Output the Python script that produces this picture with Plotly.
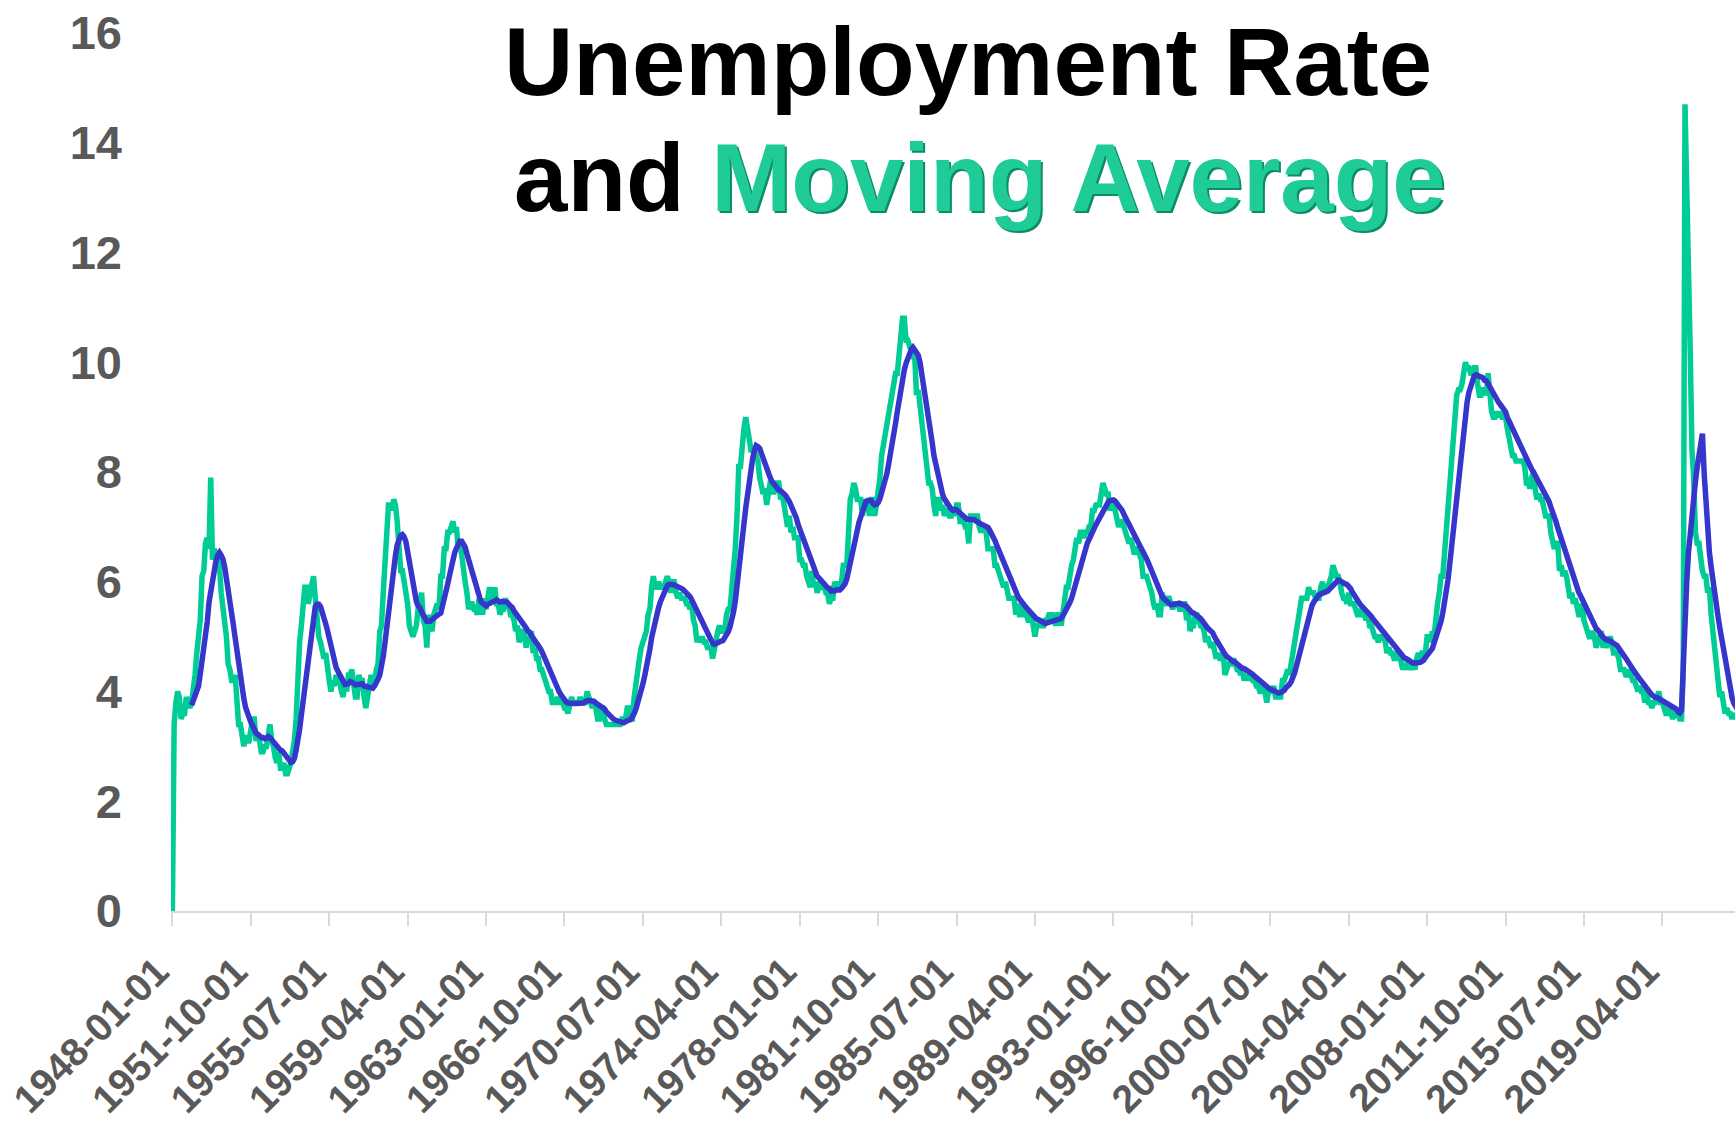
import pandas as pd
import plotly.graph_objects as go

# ---------------- data ----------------
dates = [d.strftime("%Y-%m-%d") for d in pd.date_range("1948-01-01", periods=901, freq="MS")]

unemployment_rate = [
    0.0,
    3.4, 3.8, 4.0, 3.9, 3.5, 3.6, 3.6, 3.9, 3.8, 3.7, 3.8, 4.0,
    4.3, 4.7, 5.0, 5.3, 6.1, 6.2, 6.7, 6.8, 6.6, 7.9, 6.4, 6.6,
    6.5, 6.4, 6.3, 5.8, 5.5, 5.4, 5.0, 4.5, 4.4, 4.2, 4.2, 4.3,
    3.7, 3.4, 3.4, 3.1, 3.0, 3.2, 3.1, 3.1, 3.3, 3.5, 3.5, 3.1,
    3.2, 3.1, 2.9, 2.9, 3.0, 3.0, 3.2, 3.4, 3.1, 3.0, 2.8, 2.7,
    2.9, 2.6, 2.6, 2.7, 2.5, 2.5, 2.6, 2.7, 2.9, 3.1, 3.5, 4.5,
    4.9, 5.2, 5.7, 5.9, 5.9, 5.6, 5.8, 6.0, 6.1, 5.7, 5.3, 5.0,
    4.9, 4.7, 4.6, 4.7, 4.3, 4.2, 4.0, 4.2, 4.1, 4.3, 4.2, 4.2,
    4.0, 3.9, 4.2, 4.0, 4.3, 4.3, 4.4, 4.1, 3.9, 3.9, 4.3, 4.2,
    4.2, 3.9, 3.7, 3.9, 4.1, 4.3, 4.2, 4.1, 4.4, 4.5, 5.1, 5.2,
    5.8, 6.4, 6.7, 7.4, 7.4, 7.3, 7.5, 7.4, 7.1, 6.7, 6.2, 6.2,
    6.0, 5.9, 5.6, 5.2, 5.1, 5.0, 5.1, 5.2, 5.5, 5.7, 5.8, 5.3,
    5.2, 4.8, 5.4, 5.2, 5.1, 5.4, 5.5, 5.6, 5.5, 6.1, 6.1, 6.6,
    6.6, 6.9, 6.9, 7.0, 7.1, 6.9, 7.0, 6.6, 6.7, 6.5, 6.1, 6.0,
    5.8, 5.5, 5.6, 5.6, 5.5, 5.5, 5.4, 5.7, 5.6, 5.4, 5.7, 5.5,
    5.7, 5.9, 5.7, 5.7, 5.9, 5.6, 5.6, 5.4, 5.5, 5.5, 5.7, 5.5,
    5.6, 5.4, 5.4, 5.3, 5.1, 5.2, 4.9, 5.0, 5.1, 5.1, 4.8, 5.0,
    4.9, 5.1, 4.7, 4.8, 4.6, 4.6, 4.4, 4.4, 4.3, 4.2, 4.1, 4.0,
    4.0, 3.8, 3.8, 3.8, 3.9, 3.8, 3.8, 3.8, 3.7, 3.7, 3.6, 3.8,
    3.9, 3.8, 3.8, 3.8, 3.8, 3.9, 3.8, 3.8, 3.8, 4.0, 3.9, 3.8,
    3.7, 3.8, 3.7, 3.5, 3.5, 3.7, 3.7, 3.5, 3.4, 3.4, 3.4, 3.4,
    3.4, 3.4, 3.4, 3.4, 3.4, 3.5, 3.5, 3.5, 3.7, 3.7, 3.5, 3.5,
    3.9, 4.2, 4.4, 4.6, 4.8, 4.9, 5.0, 5.1, 5.4, 5.5, 5.9, 6.1,
    5.9, 5.9, 6.0, 5.9, 5.9, 5.9, 6.0, 6.1, 6.0, 5.8, 6.0, 6.0,
    5.8, 5.7, 5.8, 5.7, 5.7, 5.7, 5.6, 5.6, 5.5, 5.6, 5.3, 5.2,
    4.9, 5.0, 4.9, 5.0, 4.9, 4.9, 4.8, 4.8, 4.8, 4.6, 4.8, 4.9,
    5.1, 5.2, 5.1, 5.1, 5.1, 5.4, 5.5, 5.5, 5.9, 6.0, 6.6, 7.2,
    8.1, 8.1, 8.6, 8.8, 9.0, 8.8, 8.6, 8.4, 8.4, 8.4, 8.3, 8.2,
    7.9, 7.7, 7.6, 7.7, 7.4, 7.6, 7.8, 7.8, 7.6, 7.7, 7.8, 7.8,
    7.5, 7.6, 7.4, 7.2, 7.0, 7.2, 6.9, 7.0, 6.8, 6.8, 6.8, 6.4,
    6.4, 6.3, 6.3, 6.1, 6.0, 5.9, 6.2, 5.9, 6.0, 5.8, 5.9, 6.0,
    5.9, 5.9, 5.8, 5.8, 5.6, 5.7, 5.7, 6.0, 5.9, 6.0, 5.9, 6.0,
    6.3, 6.3, 6.3, 6.9, 7.5, 7.6, 7.8, 7.7, 7.5, 7.5, 7.5, 7.2,
    7.5, 7.4, 7.4, 7.2, 7.5, 7.5, 7.2, 7.4, 7.6, 7.9, 8.3, 8.5,
    8.6, 8.9, 9.0, 9.3, 9.4, 9.6, 9.8, 9.8, 10.1, 10.4, 10.8, 10.8,
    10.4, 10.4, 10.3, 10.2, 10.1, 10.1, 9.4, 9.5, 9.2, 8.8, 8.5, 8.3,
    8.0, 7.8, 7.8, 7.7, 7.4, 7.2, 7.5, 7.5, 7.3, 7.4, 7.2, 7.3,
    7.3, 7.2, 7.2, 7.3, 7.2, 7.4, 7.4, 7.1, 7.1, 7.1, 7.0, 7.0,
    6.7, 7.2, 7.2, 7.1, 7.2, 7.2, 7.0, 6.9, 7.0, 7.0, 6.9, 6.6,
    6.6, 6.6, 6.6, 6.3, 6.3, 6.2, 6.1, 6.0, 5.9, 6.0, 5.8, 5.7,
    5.7, 5.7, 5.7, 5.4, 5.6, 5.4, 5.4, 5.6, 5.4, 5.4, 5.3, 5.3,
    5.4, 5.2, 5.0, 5.2, 5.2, 5.3, 5.2, 5.2, 5.3, 5.3, 5.4, 5.4,
    5.4, 5.3, 5.2, 5.4, 5.4, 5.2, 5.5, 5.7, 5.9, 5.9, 6.2, 6.3,
    6.4, 6.6, 6.8, 6.7, 6.9, 6.9, 6.8, 6.9, 6.9, 7.0, 7.0, 7.3,
    7.3, 7.4, 7.4, 7.4, 7.6, 7.8, 7.7, 7.6, 7.6, 7.3, 7.4, 7.4,
    7.3, 7.1, 7.0, 7.1, 7.1, 7.0, 6.9, 6.8, 6.7, 6.8, 6.6, 6.5,
    6.6, 6.6, 6.5, 6.4, 6.1, 6.1, 6.1, 6.0, 5.9, 5.8, 5.6, 5.5,
    5.6, 5.4, 5.4, 5.8, 5.6, 5.6, 5.7, 5.7, 5.6, 5.5, 5.6, 5.6,
    5.6, 5.5, 5.5, 5.6, 5.6, 5.3, 5.5, 5.1, 5.2, 5.2, 5.4, 5.4,
    5.3, 5.2, 5.2, 5.1, 4.9, 5.0, 4.9, 4.8, 4.9, 4.7, 4.6, 4.7,
    4.6, 4.6, 4.7, 4.3, 4.4, 4.5, 4.5, 4.5, 4.6, 4.5, 4.4, 4.4,
    4.3, 4.4, 4.2, 4.3, 4.2, 4.3, 4.3, 4.2, 4.2, 4.1, 4.1, 4.0,
    4.0, 4.1, 4.0, 3.8, 4.0, 4.0, 4.0, 4.1, 3.9, 3.9, 3.9, 3.9,
    4.2, 4.2, 4.3, 4.4, 4.3, 4.5, 4.6, 4.9, 5.0, 5.3, 5.5, 5.7,
    5.7, 5.7, 5.7, 5.9, 5.8, 5.8, 5.8, 5.7, 5.7, 5.7, 5.9, 6.0,
    5.8, 5.9, 5.9, 6.0, 6.1, 6.3, 6.2, 6.1, 6.1, 6.0, 5.8, 5.7,
    5.7, 5.6, 5.8, 5.6, 5.6, 5.6, 5.5, 5.4, 5.4, 5.5, 5.4, 5.4,
    5.3, 5.4, 5.2, 5.2, 5.1, 5.0, 5.0, 4.9, 5.0, 5.0, 5.0, 4.9,
    4.7, 4.8, 4.7, 4.7, 4.6, 4.6, 4.7, 4.7, 4.5, 4.4, 4.5, 4.4,
    4.6, 4.5, 4.4, 4.5, 4.4, 4.6, 4.7, 4.6, 4.7, 4.7, 4.7, 5.0,
    5.0, 4.9, 5.1, 5.0, 5.4, 5.6, 5.8, 6.1, 6.1, 6.5, 6.8, 7.3,
    7.8, 8.3, 8.7, 9.0, 9.4, 9.5, 9.5, 9.6, 9.8, 10.0, 9.9, 9.9,
    9.8, 9.8, 9.9, 9.9, 9.6, 9.4, 9.4, 9.5, 9.5, 9.4, 9.8, 9.3,
    9.1, 9.0, 9.0, 9.1, 9.0, 9.1, 9.0, 9.0, 9.0, 8.8, 8.6, 8.5,
    8.3, 8.3, 8.2, 8.2, 8.2, 8.2, 8.2, 8.1, 7.8, 7.8, 7.7, 7.9,
    8.0, 7.7, 7.5, 7.6, 7.5, 7.5, 7.3, 7.2, 7.2, 7.2, 6.9, 6.7,
    6.6, 6.7, 6.7, 6.2, 6.3, 6.1, 6.2, 6.1, 5.9, 5.7, 5.8, 5.6,
    5.7, 5.5, 5.4, 5.4, 5.6, 5.3, 5.2, 5.1, 5.0, 5.0, 5.1, 5.0,
    4.8, 4.9, 5.0, 5.1, 4.8, 4.9, 4.8, 4.9, 5.0, 4.9, 4.7, 4.7,
    4.7, 4.6, 4.4, 4.4, 4.4, 4.3, 4.3, 4.4, 4.3, 4.2, 4.2, 4.1,
    4.0, 4.1, 4.0, 4.0, 3.8, 4.0, 3.8, 3.8, 3.7, 3.8, 3.8, 3.9,
    4.0, 3.8, 3.8, 3.7, 3.6, 3.6, 3.7, 3.6, 3.5, 3.6, 3.6, 3.6,
    3.5, 3.5, 4.4, 14.7, 13.2, 11.0, 10.2, 8.4, 7.9, 6.9, 6.7, 6.7,
    6.4, 6.2, 6.1, 6.1, 5.8, 5.9, 5.4, 5.1, 4.7, 4.5, 4.2, 3.9,
    4.0, 3.8, 3.6, 3.7, 3.6, 3.6, 3.5, 3.6, 3.5, 3.6, 3.6, 3.5,
]

moving_average = [None] * 11 + [
    3.75,
    3.83, 3.90, 3.98, 4.10, 4.32, 4.53, 4.79, 5.03, 5.27, 5.62, 5.83, 6.05,
    6.23, 6.38, 6.48, 6.53, 6.48, 6.41, 6.27, 6.08, 5.89, 5.58, 5.40, 5.21,
    4.98, 4.73, 4.48, 4.26, 4.05, 3.87, 3.71, 3.59, 3.50, 3.44, 3.38, 3.28,
    3.24, 3.22, 3.18, 3.16, 3.16, 3.14, 3.15, 3.18, 3.16, 3.12, 3.06, 3.03,
    3.00, 2.96, 2.93, 2.92, 2.88, 2.83, 2.78, 2.73, 2.71, 2.72, 2.78, 2.93,
    3.09, 3.31, 3.57, 3.83, 4.12, 4.38, 4.64, 4.92, 5.18, 5.40, 5.55, 5.59,
    5.59, 5.55, 5.46, 5.36, 5.23, 5.11, 4.96, 4.81, 4.64, 4.53, 4.43, 4.37,
    4.29, 4.23, 4.19, 4.13, 4.13, 4.14, 4.18, 4.17, 4.15, 4.12, 4.13, 4.13,
    4.14, 4.14, 4.10, 4.09, 4.08, 4.08, 4.06, 4.06, 4.10, 4.15, 4.22, 4.30,
    4.43, 4.64, 4.89, 5.18, 5.46, 5.71, 5.98, 6.26, 6.48, 6.67, 6.76, 6.84,
    6.86, 6.82, 6.73, 6.54, 6.35, 6.16, 5.96, 5.78, 5.64, 5.56, 5.53, 5.45,
    5.38, 5.29, 5.28, 5.28, 5.28, 5.31, 5.34, 5.38, 5.38, 5.41, 5.43, 5.54,
    5.66, 5.83, 5.96, 6.11, 6.28, 6.40, 6.53, 6.61, 6.71, 6.74, 6.74, 6.69,
    6.63, 6.51, 6.40, 6.28, 6.15, 6.03, 5.90, 5.83, 5.73, 5.64, 5.61, 5.57,
    5.56, 5.59, 5.60, 5.61, 5.64, 5.65, 5.67, 5.64, 5.63, 5.64, 5.64, 5.64,
    5.63, 5.59, 5.57, 5.53, 5.47, 5.43, 5.38, 5.34, 5.31, 5.28, 5.20, 5.16,
    5.10, 5.08, 5.02, 4.98, 4.93, 4.88, 4.84, 4.79, 4.73, 4.65, 4.59, 4.51,
    4.43, 4.33, 4.25, 4.17, 4.11, 4.04, 3.99, 3.94, 3.89, 3.85, 3.81, 3.79,
    3.78, 3.78, 3.78, 3.78, 3.78, 3.78, 3.78, 3.78, 3.79, 3.82, 3.84, 3.84,
    3.83, 3.83, 3.82, 3.79, 3.77, 3.75, 3.74, 3.72, 3.68, 3.63, 3.59, 3.56,
    3.53, 3.50, 3.48, 3.47, 3.46, 3.44, 3.43, 3.43, 3.45, 3.48, 3.48, 3.49,
    3.53, 3.60, 3.68, 3.78, 3.90, 4.02, 4.14, 4.28, 4.42, 4.57, 4.77, 4.98,
    5.15, 5.29, 5.43, 5.53, 5.63, 5.71, 5.79, 5.88, 5.93, 5.95, 5.96, 5.95,
    5.94, 5.93, 5.91, 5.89, 5.88, 5.86, 5.83, 5.78, 5.74, 5.73, 5.67, 5.60,
    5.53, 5.47, 5.39, 5.33, 5.27, 5.20, 5.13, 5.07, 5.01, 4.93, 4.88, 4.86,
    4.88, 4.89, 4.91, 4.92, 4.93, 4.98, 5.03, 5.09, 5.18, 5.30, 5.45, 5.64,
    5.89, 6.13, 6.43, 6.73, 7.06, 7.34, 7.60, 7.84, 8.05, 8.25, 8.39, 8.48,
    8.46, 8.43, 8.34, 8.25, 8.12, 8.02, 7.95, 7.90, 7.83, 7.78, 7.73, 7.70,
    7.67, 7.66, 7.64, 7.60, 7.57, 7.53, 7.46, 7.39, 7.33, 7.25, 7.17, 7.05,
    6.96, 6.85, 6.76, 6.67, 6.58, 6.48, 6.42, 6.33, 6.26, 6.18, 6.10, 6.07,
    6.03, 5.99, 5.95, 5.93, 5.89, 5.88, 5.83, 5.84, 5.83, 5.85, 5.85, 5.85,
    5.88, 5.92, 5.96, 6.05, 6.21, 6.37, 6.54, 6.68, 6.82, 6.94, 7.08, 7.18,
    7.28, 7.37, 7.46, 7.48, 7.48, 7.48, 7.43, 7.40, 7.41, 7.44, 7.51, 7.62,
    7.71, 7.83, 7.97, 8.14, 8.30, 8.48, 8.69, 8.89, 9.10, 9.31, 9.52, 9.71,
    9.86, 9.98, 10.09, 10.17, 10.23, 10.27, 10.23, 10.21, 10.13, 10.00, 9.81, 9.60,
    9.40, 9.18, 8.98, 8.77, 8.54, 8.30, 8.14, 7.98, 7.82, 7.70, 7.59, 7.51,
    7.45, 7.40, 7.35, 7.32, 7.30, 7.32, 7.31, 7.28, 7.26, 7.23, 7.22, 7.19,
    7.14, 7.14, 7.14, 7.13, 7.13, 7.11, 7.08, 7.06, 7.05, 7.04, 7.03, 7.00,
    6.99, 6.94, 6.89, 6.83, 6.75, 6.67, 6.59, 6.52, 6.43, 6.34, 6.25, 6.18,
    6.10, 6.03, 5.95, 5.88, 5.82, 5.75, 5.69, 5.66, 5.62, 5.57, 5.53, 5.49,
    5.47, 5.43, 5.37, 5.35, 5.32, 5.31, 5.29, 5.26, 5.25, 5.24, 5.25, 5.26,
    5.26, 5.27, 5.28, 5.30, 5.32, 5.31, 5.33, 5.38, 5.43, 5.48, 5.54, 5.62,
    5.70, 5.81, 5.94, 6.05, 6.18, 6.32, 6.43, 6.53, 6.61, 6.70, 6.77, 6.85,
    6.93, 6.99, 7.04, 7.10, 7.16, 7.23, 7.31, 7.37, 7.43, 7.45, 7.48, 7.49,
    7.49, 7.47, 7.43, 7.41, 7.37, 7.30, 7.23, 7.17, 7.09, 7.05, 6.98, 6.91,
    6.85, 6.81, 6.77, 6.71, 6.63, 6.55, 6.48, 6.42, 6.35, 6.27, 6.18, 6.10,
    6.02, 5.92, 5.83, 5.78, 5.73, 5.69, 5.66, 5.63, 5.61, 5.58, 5.58, 5.59,
    5.59, 5.60, 5.61, 5.59, 5.59, 5.57, 5.55, 5.50, 5.47, 5.44, 5.43, 5.41,
    5.38, 5.36, 5.33, 5.29, 5.23, 5.21, 5.16, 5.13, 5.11, 5.07, 5.00, 4.94,
    4.88, 4.83, 4.79, 4.73, 4.68, 4.64, 4.61, 4.58, 4.56, 4.54, 4.53, 4.50,
    4.48, 4.46, 4.42, 4.42, 4.40, 4.38, 4.37, 4.34, 4.31, 4.28, 4.25, 4.22,
    4.19, 4.17, 4.15, 4.11, 4.09, 4.07, 4.04, 4.03, 4.01, 3.99, 3.98, 3.97,
    3.98, 3.99, 4.02, 4.07, 4.09, 4.13, 4.18, 4.25, 4.34, 4.46, 4.59, 4.74,
    4.87, 4.99, 5.11, 5.23, 5.36, 5.47, 5.57, 5.63, 5.69, 5.73, 5.76, 5.78,
    5.79, 5.81, 5.83, 5.83, 5.86, 5.90, 5.93, 5.97, 6.00, 6.03, 6.02, 5.99,
    5.98, 5.96, 5.95, 5.92, 5.88, 5.82, 5.76, 5.70, 5.64, 5.60, 5.57, 5.54,
    5.51, 5.49, 5.44, 5.41, 5.37, 5.32, 5.28, 5.23, 5.20, 5.16, 5.13, 5.08,
    5.03, 4.98, 4.94, 4.90, 4.86, 4.83, 4.80, 4.78, 4.74, 4.69, 4.65, 4.61,
    4.60, 4.58, 4.55, 4.53, 4.52, 4.52, 4.52, 4.51, 4.53, 4.55, 4.57, 4.62,
    4.65, 4.68, 4.74, 4.78, 4.87, 4.95, 5.04, 5.17, 5.28, 5.43, 5.61, 5.80,
    6.03, 6.32, 6.62, 6.95, 7.28, 7.61, 7.92, 8.21, 8.52, 8.81, 9.07, 9.28,
    9.45, 9.58, 9.68, 9.75, 9.77, 9.76, 9.75, 9.74, 9.72, 9.67, 9.66, 9.61,
    9.55, 9.48, 9.41, 9.34, 9.29, 9.27, 9.23, 9.19, 9.15, 9.10, 9.00, 8.93,
    8.87, 8.81, 8.74, 8.67, 8.60, 8.53, 8.46, 8.38, 8.28, 8.20, 8.13, 8.08,
    8.05, 8.00, 7.94, 7.89, 7.83, 7.78, 7.70, 7.63, 7.58, 7.53, 7.46, 7.36,
    7.24, 7.16, 7.09, 6.98, 6.88, 6.76, 6.67, 6.58, 6.47, 6.34, 6.25, 6.16,
    6.08, 5.98, 5.88, 5.81, 5.75, 5.68, 5.60, 5.52, 5.44, 5.38, 5.33, 5.28,
    5.20, 5.15, 5.12, 5.09, 5.03, 4.99, 4.96, 4.94, 4.94, 4.93, 4.90, 4.88,
    4.87, 4.84, 4.79, 4.73, 4.70, 4.65, 4.61, 4.57, 4.51, 4.45, 4.41, 4.36,
    4.30, 4.26, 4.23, 4.19, 4.14, 4.12, 4.08, 4.03, 3.98, 3.94, 3.91, 3.89,
    3.89, 3.87, 3.85, 3.83, 3.81, 3.78, 3.77, 3.75, 3.73, 3.72, 3.70, 3.68,
    3.63, 3.61, 3.66, 4.58, 5.38, 5.99, 6.53, 6.93, 7.30, 7.58, 7.83, 8.09,
    8.33, 8.56, 8.70, 7.98, 7.37, 6.94, 6.54, 6.27, 6.00, 5.80, 5.59, 5.36,
    5.16, 4.96, 4.75, 4.55, 4.37, 4.18, 4.02, 3.89, 3.79, 3.72, 3.67, 3.63,
]

tick_labels = dates[0:856:45]
y_ticks = [0, 2, 4, 6, 8, 10, 12, 14, 16]

# ---------------- styling ----------------
FONT = "Liberation Sans, Arial, sans-serif"
GREEN = "#00CC96"
BLUE = "#3636CC"
GREY = "#595959"
AXIS = "#D9D9D9"

fig = go.Figure()
fig.add_trace(go.Scatter(
    x=dates[:len(unemployment_rate)], y=unemployment_rate, mode="lines",
    line=dict(color=GREEN, width=5.5), showlegend=False, hoverinfo="skip"))
fig.add_trace(go.Scatter(
    x=dates[:len(moving_average)], y=moving_average, mode="lines",
    line=dict(color=BLUE, width=5.5), showlegend=False, hoverinfo="skip"))

fig.update_layout(
    width=1735, height=1122,
    margin=dict(l=171, r=0, t=33, b=211, pad=0),
    paper_bgcolor="white", plot_bgcolor="white",
    font=dict(family=FONT, color=GREY),
)

fig.update_xaxes(
    type="category", range=[-0.8, 896.7], automargin=False,
    tickmode="array", tickvals=tick_labels, ticktext=tick_labels,
    tickangle=-45, tickfont=dict(family=FONT, size=39, color=GREY, weight="bold"),
    showgrid=False, zeroline=False,
    showline=True, linecolor=AXIS, linewidth=2,
    ticks="outside", ticklen=13, tickwidth=2, tickcolor=AXIS,
    ticklabelstandoff=7, ticklabelshift=-15,
)
fig.update_yaxes(
    range=[0, 16], tickmode="array", tickvals=y_ticks, automargin=False,
    tickfont=dict(family=FONT, size=47, color=GREY, weight="bold"),
    showgrid=False, zeroline=False, showline=False, ticks="",
    ticklabelstandoff=48,
)

# title (two lines, second line partly green with a darker shadow)
fig.add_annotation(
    xref="paper", yref="paper", x=0.5096, y=0.968, xanchor="center", yanchor="middle",
    text="Unemployment Rate", showarrow=False,
    font=dict(family=FONT, size=96, color="black", weight="bold"))
fig.add_annotation(
    xref="paper", yref="paper", x=0.517, y=0.835, xanchor="center", yanchor="middle",
    xshift=2, yshift=-2,
    text="<span style='color:rgba(0,0,0,0)'>and </span>Moving Average", showarrow=False,
    font=dict(family=FONT, size=96, color="#0A8C66", weight="bold"))
fig.add_annotation(
    xref="paper", yref="paper", x=0.517, y=0.835, xanchor="center", yanchor="middle",
    text="and <span style='color:#1FCC98'>Moving Average</span>", showarrow=False,
    font=dict(family=FONT, size=96, color="black", weight="bold"))

fig.write_html("out.html")
